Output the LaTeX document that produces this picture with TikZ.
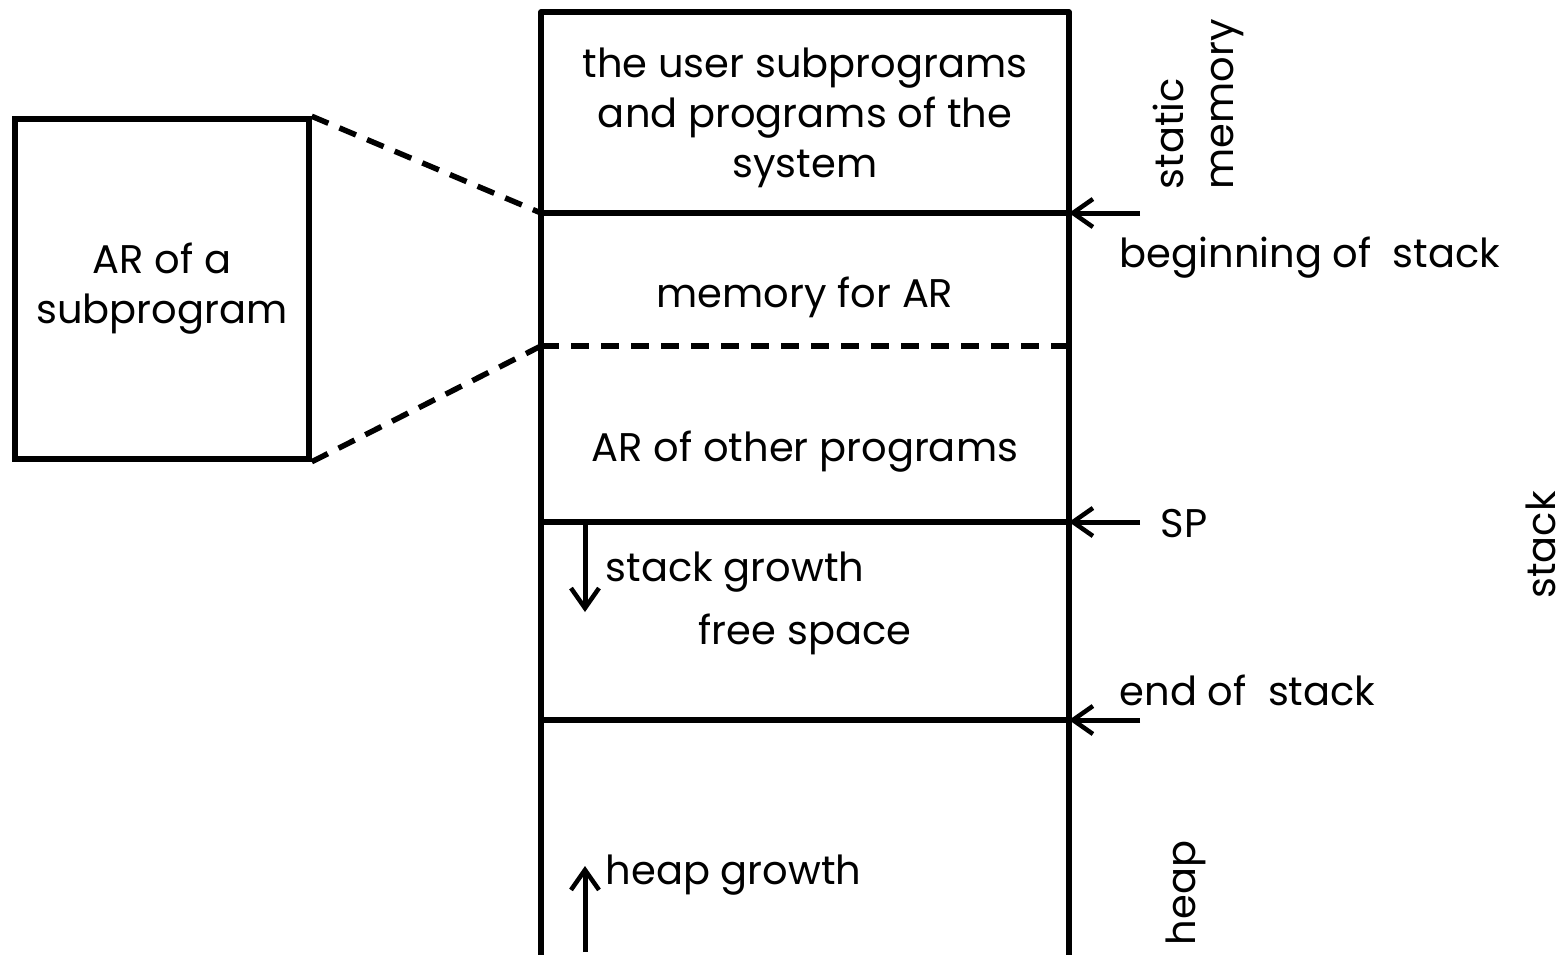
\documentclass[tikz,border=0pt]{standalone}
\usepackage{fontspec}
\setmainfont{Poppins}
\usetikzlibrary{arrows.meta}
\begin{document}
\begin{tikzpicture}[x=1pt,y=-1pt, line width=5.5pt,
  lbl/.style={font=\fontsize{40}{50}\selectfont, inner sep=0pt, align=center},
  ptr/.style={-{Straight Barb[length=20pt,width=28pt,line width=4.5pt]}, line width=5pt},
  dashln/.style={dash pattern=on 18pt off 12pt}]
\useasboundingbox (0,0) rectangle (1568,954);
% main column
\coordinate (tl) at (541,12); \coordinate (tr) at (1069,12);
\coordinate (bl) at (541,960); \coordinate (br) at (1069,960);
\draw[line join=round] (bl) -- (tl) -- (tr) -- (br);
\coordinate (aL) at (541,213); \coordinate (aR) at (1069,213);
\coordinate (bL) at (541,346); \coordinate (bR) at (1069,346);
\coordinate (cL) at (541,522); \coordinate (cR) at (1069,522);
\coordinate (dL) at (541,720); \coordinate (dR) at (1069,720);
\draw (aL) -- (aR);
\draw[dashln] (bL) -- (bR);
\draw (cL) -- (cR);
\draw (dL) -- (dR);
% left box
\node[draw, lbl, minimum width=294pt, minimum height=340pt, line width=5.5pt] (arbox) at (162,289) {AR of a\\subprogram};
\draw[dashln] (arbox.north east) -- (aL);
\draw[dashln] (arbox.south east) -- (bL);
% texts in column
\node[lbl] (sys) at (805,118) {the user subprograms\\and programs of the\\system};
\node[lbl] (mem) at (805,297) {memory for AR};
\node[lbl] (oth) at (805,452) {AR of other programs};
\node[lbl, anchor=west] (sg) at (603,572) {stack growth};
\node[lbl] (fs) at (805,634) {free space};
\node[lbl, anchor=west] (hg) at (603,875) {heap growth};
% growth arrows
\coordinate (sgA) at (585,522); \coordinate (sgB) at (585,612);
\draw[ptr] (sgA) -- (sgB);
\coordinate (hgA) at (585,952); \coordinate (hgB) at (585,866);
\draw[ptr] (hgA) -- (hgB);
% pointer arrows
\coordinate (pa) at (1140,213); \coordinate (pc) at (1140,522); \coordinate (pd) at (1140,720);
\draw[ptr] (pa) -- (aR);
\draw[ptr] (pc) -- (cR);
\draw[ptr] (pd) -- (dR);
% right labels
\node[lbl, anchor=west] (bos) at (1117,258) {beginning of\ \ stack};
\node[lbl, anchor=west] (sp) at (1158,524) {SP};
\node[lbl, anchor=west] (eos) at (1117,690) {end of\ \ stack};
\node[lbl, rotate=90, align=left, anchor=north west] (stm) at (1150,192) {static\\memory};
\node[lbl, rotate=90] (stk) at (1541,545) {stack};
\node[lbl, rotate=90] (hp) at (1186,893) {heap};
\end{tikzpicture}
\end{document}
